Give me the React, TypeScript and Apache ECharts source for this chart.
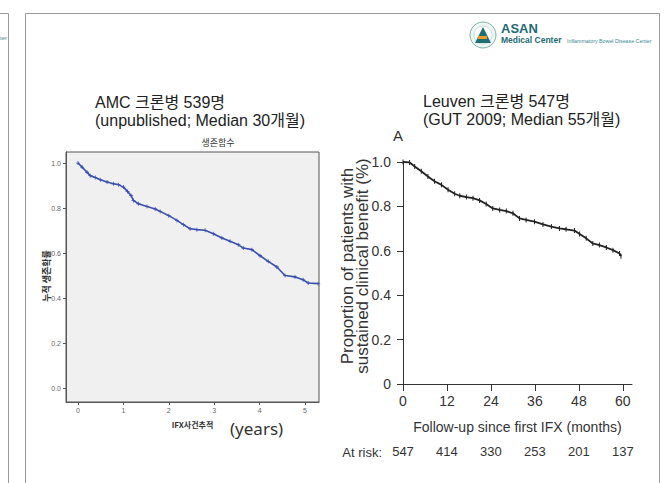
import React, { useEffect, useRef } from "react";
import * as echarts from "echarts";

// AMC cohort (years, cumulative survival)
const amcYears = [0, 0.09, 0.2, 0.27, 0.38, 0.49, 0.64, 0.78, 0.89, 1.0, 1.09, 1.17, 1.22, 1.33, 1.52, 1.7, 1.81, 2.0, 2.18, 2.32, 2.47, 2.62, 2.8, 2.98, 3.17, 3.35, 3.53, 3.64, 3.83, 4.01, 4.19, 4.38, 4.56, 4.78, 4.96, 5.07, 5.29];
const amcSurv = [1.0, 0.982, 0.959, 0.944, 0.936, 0.926, 0.916, 0.908, 0.904, 0.893, 0.874, 0.855, 0.834, 0.819, 0.807, 0.796, 0.785, 0.766, 0.745, 0.726, 0.708, 0.704, 0.701, 0.686, 0.667, 0.652, 0.637, 0.622, 0.615, 0.588, 0.563, 0.538, 0.5, 0.494, 0.481, 0.467, 0.464];

// Leuven cohort (months, proportion with sustained benefit)
const leuvenMonths = [0, 1.8, 3.2, 5.0, 6.8, 8.6, 10.5, 12.3, 14.1, 15.5, 17.3, 19.1, 20.9, 22.7, 24.5, 26.4, 28.2, 30.0, 31.8, 33.6, 35.9, 38.2, 40.5, 42.7, 44.5, 46.8, 48.2, 50.0, 51.8, 53.6, 55.5, 57.3, 59.1, 59.5];
const leuvenBenefit = [1.0, 0.998, 0.98, 0.958, 0.935, 0.913, 0.897, 0.875, 0.857, 0.848, 0.842, 0.837, 0.827, 0.811, 0.791, 0.784, 0.779, 0.769, 0.746, 0.739, 0.731, 0.719, 0.709, 0.701, 0.697, 0.691, 0.676, 0.656, 0.633, 0.626, 0.615, 0.603, 0.588, 0.576];

const amcTicksX = [0, 1, 2, 3, 4, 5];
const survTicksY = [0, 0.2, 0.4, 0.6, 0.8, 1.0];
const leuvenTicksX = [0, 12, 24, 36, 48, 60];
const atRisk = [547, 414, 330, 253, 201, 137];

const NARROW = "'Liberation Sans Narrow', 'Liberation Sans', Arial, sans-serif";
const SANS = "'Liberation Sans', Arial, sans-serif";
const KR = "'Noto Sans CJK KR', 'Noto Sans', sans-serif";
const TITLE = "'Liberation Sans', 'Noto Sans CJK KR', sans-serif";

export default function App() {
  const ref = useRef<HTMLDivElement>(null);
  useEffect(() => {
    if (!ref.current) return;
    const chart = echarts.init(ref.current, null, { renderer: "svg" });
    const option: any = {
      animation: false,
      backgroundColor: "#ffffff",
      grid: [
        { left: 66, top: 152, width: 253, height: 250, show: true, backgroundColor: "#f0f0f0", borderColor: "#555", borderWidth: 1 },
        { left: 403, top: 162, width: 229, height: 222 },
      ],
      xAxis: [
        {
          type: "value", gridIndex: 0, min: -0.264, max: 5.308,
          axisLine: { show: true, onZero: false, lineStyle: { color: "#555", width: 1 } },
          axisTick: { show: true, customValues: amcTicksX, length: 3, lineStyle: { color: "#555" } },
          axisLabel: { customValues: amcTicksX, fontSize: 7, color: "#666", margin: 5 },
          splitLine: { show: false },
          name: "IFX사건추적", nameLocation: "middle", nameGap: 18,
          nameTextStyle: { fontSize: 8, fontWeight: "bold", color: "#333", fontFamily: KR },
        },
        {
          type: "value", gridIndex: 1, min: 0, max: 62.5,
          axisLine: { show: true, onZero: false, lineStyle: { color: "#333", width: 1 } },
          axisTick: { show: true, customValues: leuvenTicksX, length: 7, lineStyle: { color: "#333" } },
          axisLabel: { customValues: leuvenTicksX, fontSize: 14, color: "#333", margin: 10, fontFamily: NARROW },
          splitLine: { show: false },
          name: "Follow-up since first IFX (months)", nameLocation: "middle", nameGap: 36,
          nameTextStyle: { fontSize: 14, color: "#333", fontFamily: NARROW },
        },
        {
          type: "value", gridIndex: 1, min: 0, max: 62.5, position: "bottom", offset: 56,
          axisLine: { show: false, onZero: false }, axisTick: { show: false }, splitLine: { show: false },
          axisLabel: {
            customValues: leuvenTicksX, fontSize: 13, color: "#333", margin: 5, fontFamily: NARROW,
            formatter: (v: number) => { const i = leuvenTicksX.indexOf(v); return i >= 0 ? String(atRisk[i]) : ""; },
          },
        },
      ],
      yAxis: [
        {
          type: "value", gridIndex: 0, min: -0.062, max: 1.049,
          axisLine: { show: true, onZero: false, lineStyle: { color: "#555", width: 1 } },
          axisTick: { show: true, customValues: survTicksY, length: 3, lineStyle: { color: "#555" } },
          axisLabel: { customValues: survTicksY, fontSize: 7, color: "#666", margin: 5, formatter: (v: number) => v.toFixed(1) },
          splitLine: { show: false },
        },
        {
          type: "value", gridIndex: 1, min: 0, max: 1, interval: 0.2,
          axisLine: { show: true, onZero: false, lineStyle: { color: "#333", width: 1 } },
          axisTick: { show: true, length: 6, lineStyle: { color: "#333" } },
          axisLabel: { fontSize: 14, color: "#333", margin: 12, fontFamily: NARROW, formatter: (v: number) => (v === 0 ? "0" : v.toFixed(1)) },
          splitLine: { show: false },
        },
      ],
      series: [
        {
          type: "line", xAxisIndex: 0, yAxisIndex: 0,
          data: amcYears.map((x, i) => [x, amcSurv[i]]),
          lineStyle: { color: "#3a4fb0", width: 1.6 },
          itemStyle: { color: "#3a4fb0" },
          symbol: "path://M4,0H6V4H10V6H6V10H4V6H0V4H4Z", symbolSize: 4, showSymbol: true,
        },
        {
          type: "line", xAxisIndex: 1, yAxisIndex: 1,
          data: leuvenMonths.map((x, i) => [x, leuvenBenefit[i]]),
          lineStyle: { color: "#222", width: 1.8 },
          itemStyle: { color: "#222" },
          symbol: "rect", symbolSize: [1, 5], showSymbol: true,
        },
      ],
      graphic: [
        { type: "rect", shape: { x: 25.5, y: 13.5, width: 634, height: 520 }, style: { fill: "none", stroke: "#9a9a9a", lineWidth: 1 } },
        { type: "line", shape: { x1: 8.5, y1: 13.5, x2: 8.5, y2: 483 }, style: { stroke: "#9a9a9a", lineWidth: 1 } },
        { type: "line", shape: { x1: 0, y1: 13.5, x2: 8.5, y2: 13.5 }, style: { stroke: "#9a9a9a", lineWidth: 1 } },
        { type: "text", x: 7, y: 38, style: { text: "ter", fontSize: 6, fill: "#4a8f95", align: "right", verticalAlign: "middle", fontFamily: SANS } },
        // logo
        { type: "circle", shape: { cx: 483, cy: 35, r: 13 }, style: { fill: "#eef5f3", stroke: "#7fb0a8", lineWidth: 1 } },
        { type: "circle", shape: { cx: 483, cy: 35, r: 9 }, style: { fill: "#ffffff", stroke: "#a9cbc5", lineWidth: 0.6 } },
        { type: "polygon", shape: { points: [[475, 43], [483, 27], [491, 43]] }, style: { fill: "#1e6f75" } },
        { type: "rect", shape: { x: 478, y: 36, width: 9, height: 3 }, style: { fill: "#f39a2c" } },
        { type: "text", x: 501, y: 28, style: { text: "ASAN", fontSize: 13, fontWeight: "bold", fill: "#1d6a72", verticalAlign: "middle", fontFamily: SANS } },
        { type: "text", x: 501, y: 40, style: { text: "Medical Center", fontSize: 8.5, fontWeight: "bold", fill: "#1d6a72", verticalAlign: "middle", fontFamily: SANS } },
        { type: "text", x: 567, y: 40.5, style: { text: "Inflammatory Bowel Disease Center", fontSize: 5.3, fill: "#3a8a90", verticalAlign: "middle", fontFamily: SANS } },
        // titles
        { type: "text", x: 95, y: 93, style: { text: "AMC 크론병 539명\n(unpublished; Median 30개월)", fontSize: 16, lineHeight: 18, fill: "#222", verticalAlign: "top", fontFamily: TITLE } },
        { type: "text", x: 423, y: 92, style: { text: "Leuven 크론병 547명\n(GUT 2009; Median 55개월)", fontSize: 16, lineHeight: 18, fill: "#222", verticalAlign: "top", fontFamily: TITLE } },
        // left chart extras
        { type: "text", x: 218, y: 142, style: { text: "생존함수", fontSize: 9, fill: "#333", align: "center", verticalAlign: "middle", fontFamily: KR } },
        { type: "text", x: 46, y: 276, rotation: Math.PI / 2, style: { text: "누적 생존확률", fontSize: 9, fontWeight: "bold", fill: "#333", align: "center", verticalAlign: "middle", fontFamily: KR } },
        { type: "text", x: 230, y: 428, style: { text: "(years)", fontSize: 17, fill: "#333", verticalAlign: "middle", fontFamily: "'Noto Sans', sans-serif" } },
        // right chart extras
        { type: "text", x: 398, y: 135, style: { text: "A", fontSize: 15, fill: "#333", align: "center", verticalAlign: "middle", fontFamily: SANS } },
        { type: "text", x: 355, y: 266, rotation: Math.PI / 2, style: { text: "Proportion of patients with\nsustained clinical benefit (%)", fontSize: 17, lineHeight: 15, fill: "#333", align: "center", verticalAlign: "middle", fontFamily: SANS } },
        { type: "text", x: 382, y: 452, style: { text: "At risk:", fontSize: 13, fill: "#333", align: "right", verticalAlign: "middle", fontFamily: NARROW } },
      ],
    };
    chart.setOption(option);
    return () => chart.dispose();
  }, []);
  return <div ref={ref} style={{ position: "absolute", left: 0, top: 0, width: 668, height: 483 }} />;
}
